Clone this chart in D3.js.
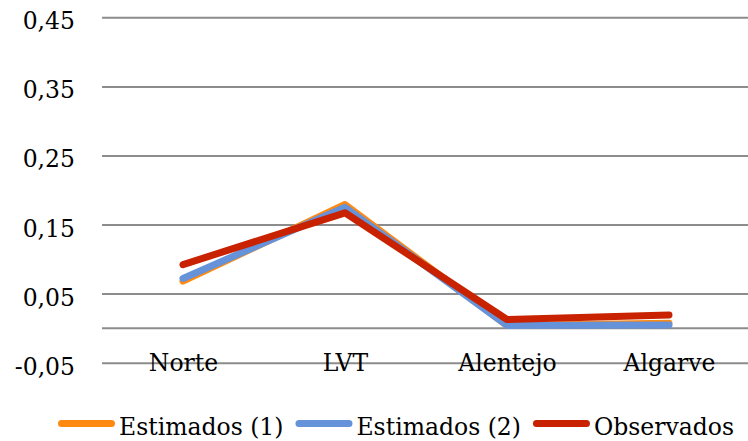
<!DOCTYPE html>
<html>
<head>
<meta charset="utf-8">
<script src="https://cdn.jsdelivr.net/npm/d3@7"></script>
<style>
  html, body { margin: 0; padding: 0; background: #fff; }
  svg { display: block; }
  text { font-family: "DejaVu Serif", serif; font-size: 23.5px; fill: #000; }
</style>
</head>
<body>
<svg id="chart" width="748" height="441"></svg>
<script>
// Regions along the horizontal axis
const categories = ["Norte", "LVT", "Alentejo", "Algarve"];

// Series values per region
const estimados1 = [0.068, 0.179, 0.004, 0.007];
const estimados2 = [0.072, 0.175, 0.004, 0.0045];
const observados = [0.092, 0.167, 0.0125, 0.019];

const seriesNames = ["Estimados (1)", "Estimados (2)", "Observados"];
const seriesColors = ["#FF8A12", "#6592D9", "#C82200"];

// Value-axis ticks
const yTicks = [-0.05, 0.05, 0.15, 0.25, 0.35, 0.45];

const series = [estimados1, estimados2, observados].map((values, i) => ({
  name: seriesNames[i],
  color: seriesColors[i],
  values
}));

const svg = d3.select("#chart");
const plotLeft = 102, plotRight = 748;
const gridColor = "#8C8C8C";

const y = d3.scaleLinear().domain([-0.05, 0.45]).range([362.7, 17.3]);
const x = d3.scalePoint().domain(categories).range([102, 750]).padding(0.5);

const fmt = v => d3.format(".2f")(v).replace(".", ",").replace("−", "-");

// Gridlines and value labels
const yAxis = svg.append("g")
  .attr("transform", `translate(${plotLeft},0)`)
  .call(d3.axisLeft(y)
    .tickValues(yTicks)
    .tickFormat(fmt)
    .tickSize(-(plotRight - plotLeft))
    .tickPadding(27));
yAxis.select(".domain").remove();
yAxis.selectAll(".tick line").attr("stroke", gridColor).attr("stroke-width", 2);
yAxis.selectAll(".tick text")
  .attr("dy", "0.49em")
  .style("font-family", "'DejaVu Serif', serif")
  .style("font-size", "23.5px");

// Category axis crossing at zero
const xAxis = svg.append("g")
  .attr("transform", `translate(0,${y(0)})`)
  .call(d3.axisBottom(x).tickSize(0).tickSizeOuter(0).tickPadding(26.3));
xAxis.select(".domain")
  .attr("d", `M${plotLeft},0H${plotRight}`)
  .attr("stroke", gridColor)
  .attr("stroke-width", 2);
xAxis.selectAll(".tick text")
  .style("font-family", "'DejaVu Serif', serif")
  .style("font-size", "23.5px");

// Series lines
const line = d3.line()
  .x((d, i) => x(categories[i]))
  .y(d => y(d));

svg.append("g")
  .selectAll("path")
  .data(series)
  .join("path")
  .attr("d", d => line(d.values))
  .attr("fill", "none")
  .attr("stroke", d => d.color)
  .attr("stroke-width", 7)
  .attr("stroke-linecap", "round")
  .attr("stroke-linejoin", "round");

// Legend
const legend = svg.append("g");
const lineLen = 57, gapAfterLine = 4, gapAfterText = 12;
const legendY = 423.5, legendBaseline = 435;
let cursor = 0;
const items = series.map(s => {
  const g = legend.append("g");
  g.append("line")
    .attr("x1", cursor + 3.5).attr("x2", cursor + lineLen - 3.5)
    .attr("y1", legendY).attr("y2", legendY)
    .attr("stroke", s.color)
    .attr("stroke-width", 7)
    .attr("stroke-linecap", "round");
  const t = g.append("text")
    .attr("x", cursor + lineLen + gapAfterLine)
    .attr("y", legendBaseline)
    .text(s.name);
  cursor += lineLen + gapAfterLine + t.node().getComputedTextLength() + gapAfterText;
  return g;
});
const total = cursor - gapAfterText;
legend.attr("transform", `translate(${396 - total / 2},0)`);
</script>
</body>
</html>
